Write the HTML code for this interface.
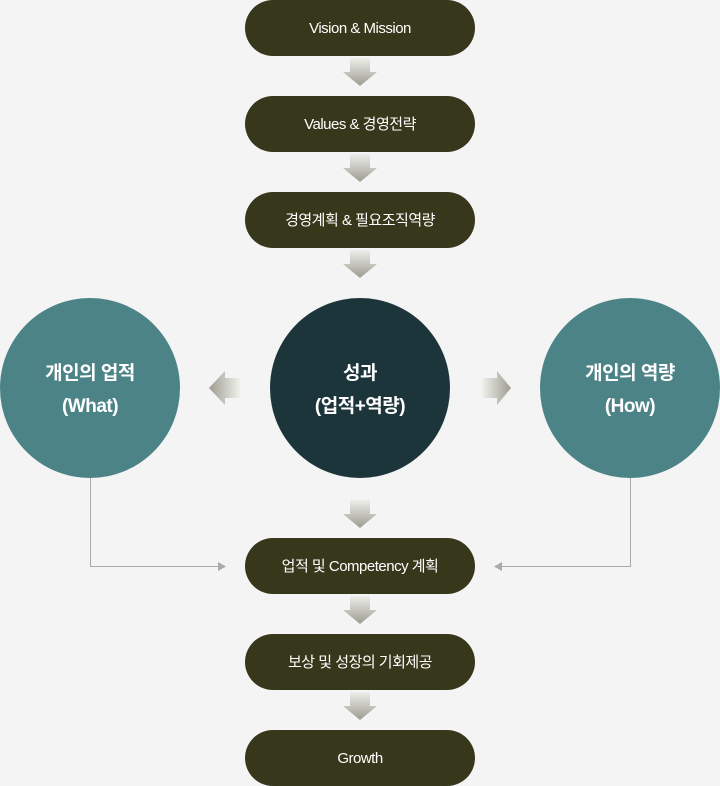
<!DOCTYPE html>
<html><head><meta charset="utf-8"><style>
html,body{margin:0;padding:0;background:#f4f4f4;}
svg{display:block;font-family:"Liberation Sans","Noto Sans CJK KR",sans-serif;}
</style></head><body>
<svg width="720" height="786" viewBox="0 0 720 786" xmlns="http://www.w3.org/2000/svg">
<defs>
<linearGradient id="gd" x1="0" y1="0" x2="0" y2="1"><stop offset="0" stop-color="#eeeeea"/><stop offset="1" stop-color="#9c9c90"/></linearGradient>
<linearGradient id="gl" x1="1" y1="0" x2="0" y2="0"><stop offset="0" stop-color="#f0f0ec"/><stop offset="1" stop-color="#9c9c90"/></linearGradient>
<linearGradient id="gr" x1="0" y1="0" x2="1" y2="0"><stop offset="0" stop-color="#f0f0ec"/><stop offset="1" stop-color="#9c9c90"/></linearGradient>
<g id="da"><path d="M350 0 H370 V14 H377 L360 28 L343 14 H350 Z" fill="url(#gd)"/></g>
</defs>
<rect width="720" height="786" fill="#f4f4f4"/>
<g fill="#37371c">
<rect x="245" y="0" width="230" height="56" rx="28"/>
<rect x="245" y="96" width="230" height="56" rx="28"/>
<rect x="245" y="192" width="230" height="56" rx="28"/>
<rect x="245" y="538" width="230" height="56" rx="28"/>
<rect x="245" y="634" width="230" height="56" rx="28"/>
<rect x="245" y="730" width="230" height="56" rx="28"/>
</g>
<use href="#da" y="58"/><use href="#da" y="154"/><use href="#da" y="250"/>
<use href="#da" y="500"/><use href="#da" y="596"/><use href="#da" y="692"/>
<path d="M240 378 V398 H225 V405 L209 388 L225 371 V378 Z" fill="url(#gl)"/>
<path d="M482 378 V398 H497 V405 L511 388 L497 371 V378 Z" fill="url(#gr)"/>
<circle cx="90" cy="388" r="90" fill="#4c8387"/>
<circle cx="360" cy="388" r="90" fill="#1c353a"/>
<circle cx="630" cy="388" r="90" fill="#4c8387"/>
<g stroke="#aaa" stroke-width="1" fill="none">
<path d="M90.5 478 V566.5 H220"/>
<path d="M630.5 478 V566.5 H500"/>
</g>
<path d="M218 562 L226 566.5 L218 571 Z" fill="#aaa"/>
<path d="M502 562 L494 566.5 L502 571 Z" fill="#aaa"/>
<g fill="#fff" text-anchor="middle" font-size="15" letter-spacing="-0.5">
<text x="360" y="33">Vision &amp; Mission</text>
<text x="360" y="129">Values &amp; 경영전략</text>
<text x="360" y="225">경영계획 &amp; 필요조직역량</text>
<text x="360" y="571">업적 및 Competency 계획</text>
<text x="360" y="667">보상 및 성장의 기회제공</text>
<text x="360" y="763">Growth</text>
</g>
<g fill="#fff" text-anchor="middle" font-size="19" font-weight="bold" letter-spacing="-0.5">
<text x="90" y="379">개인의 업적</text>
<text x="90" y="412">(What)</text>
<text x="360" y="379">성과</text>
<text x="360" y="412">(업적+역량)</text>
<text x="630" y="379">개인의 역량</text>
<text x="630" y="412">(How)</text>
</g>
</svg>
</body></html>
